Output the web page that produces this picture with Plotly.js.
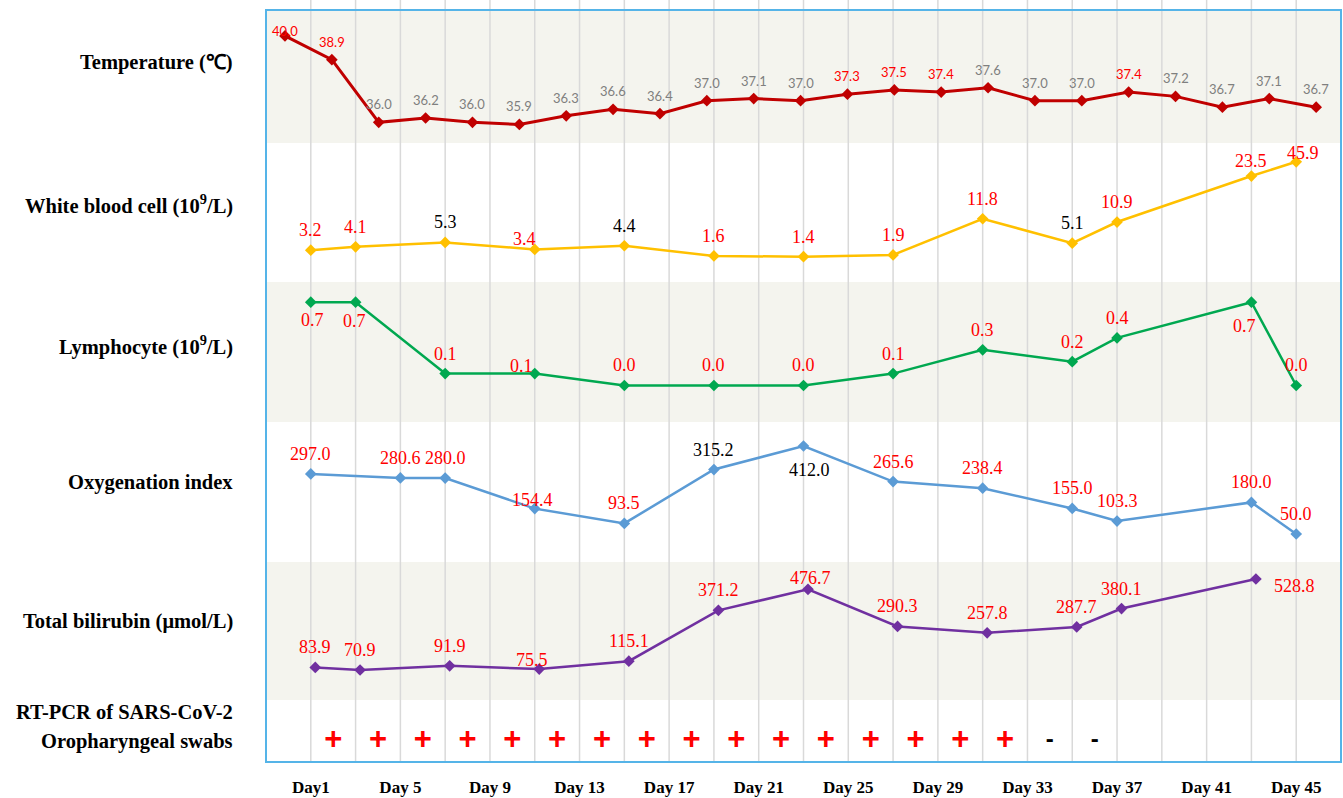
<!DOCTYPE html>
<html><head><meta charset="utf-8">
<script src="https://cdn.plot.ly/plotly-3.0.1.min.js"></script>
<style>html,body{margin:0;padding:0;background:#fff}#chart{width:1343px;height:798px}</style>
</head><body><div id="chart"></div>
<script>
// ---------------- DATA ----------------
const dayTicks = [1, 5, 9, 13, 17, 21, 25, 29, 33, 37, 41, 45];
const dayTickText = ['Day1', 'Day 5', 'Day 9', 'Day 13', 'Day 17', 'Day 21', 'Day 25', 'Day 29', 'Day 33', 'Day 37', 'Day 41', 'Day 45'];

const tempValues = [40.0, 38.9, 36.0, 36.2, 36.0, 35.9, 36.3, 36.6, 36.4, 37.0, 37.1, 37.0,
                    37.3, 37.5, 37.4, 37.6, 37.0, 37.0, 37.4, 37.2, 36.7, 37.1, 36.7];

const wbcDays = [1, 3, 7, 11, 15, 19, 23, 27, 31, 35, 37, 43, 45];
const wbcValues = [3.2, 4.1, 5.3, 3.4, 4.4, 1.6, 1.4, 1.9, 11.8, 5.1, 10.9, 23.5, 45.9];
// height at which each value is drawn in the reference (last point is drawn compressed)
const wbcPlotted = [3.2, 4.1, 5.3, 3.4, 4.4, 1.6, 1.4, 1.9, 11.8, 5.1, 10.9, 23.5, 27.4];

const lymphDays = [1, 3, 7, 11, 15, 19, 23, 27, 31, 35, 37, 43, 45];
const lymphValues = [0.7, 0.7, 0.1, 0.1, 0.0, 0.0, 0.0, 0.1, 0.3, 0.2, 0.4, 0.7, 0.0];

const oxyDays = [1, 5, 7, 11, 15, 19, 23, 27, 31, 35, 37, 43, 45];
const oxyValues = [297.0, 280.6, 280.0, 154.4, 93.5, 315.2, 412.0, 265.6, 238.4, 155.0, 103.3, 180.0, 50.0];

const biliDays = [1, 3, 7, 11, 15, 19, 23, 27, 31, 35, 37, 43];
const biliValues = [83.9, 70.9, 91.9, 75.5, 115.1, 371.2, 476.7, 290.3, 257.8, 287.7, 380.1, 528.8];

const pcrDays = [2, 4, 6, 8, 10, 12, 14, 16, 18, 20, 22, 24, 26, 28, 30, 32, 34, 36];
const pcrResults = ['+', '+', '+', '+', '+', '+', '+', '+', '+', '+', '+', '+', '+', '+', '+', '+', '-', '-'];

const rowLabels = ['Temperature (℃)', 'White blood cell (10<sup>9</sup>/L)', 'Lymphocyte (10<sup>9</sup>/L)',
                   'Oxygenation index', 'Total bilirubin (μmol/L)', 'RT-PCR of SARS-CoV-2', 'Oropharyngeal swabs'];

// ---------------- STYLE / GEOMETRY ----------------
const L = 266, R = 1341, T = 10, B = 762;
const py = p => (B - p) / (B - T);
const pxp = p => (p - L) / (R - L);
const dom = (top, bot) => [py(bot), py(top)];

const RED = '#FF0000', BLACK = '#000000', GRAY = '#7F7F7F';
const tempRed = [0, 1, 12, 13, 14, 18];
const wbcBlack = [2, 4, 9];
const oxyBlack = [5, 6];

const shifts = {
  temp: {def: [0, 18], o: {0: [0, 5]}},
  wbc: {def: [0, 20], o: {3: [-10, 10], 11: [0, 15], 12: [7, 9]}},
  lymph: {def: [0, 20], o: {0: [2, -18], 1: [-1, -19], 3: [-13, 8], 11: [-7, -24]}},
  oxy: {def: [0, 20], o: {3: [-2, 9], 6: [6, -24]}},
  bili: {def: [0, 20], o: {3: [-7, 9], 6: [3, 11], 11: [39, -7]}}
};
const BILI_OFFSET = 0.2;

const serif = 'Liberation Serif, Times New Roman, serif';
const annotations = [];
function addLabels(key, xs, ys, vals, xref, yref, colorFn, font) {
  vals.forEach((v, i) => {
    const s = shifts[key].o[i] || shifts[key].def;
    annotations.push({
      xref: xref, yref: yref, x: xs[i], y: ys[i], text: v.toFixed(1), showarrow: false,
      xshift: s[0], yshift: s[1], xanchor: 'center', yanchor: 'middle',
      font: {family: font.family, size: font.size, color: colorFn(i)}
    });
  });
}
const tempIdx = tempValues.map((_, i) => i);
const biliX = biliDays.map(d => d + BILI_OFFSET);

addLabels('temp', tempIdx, tempValues, tempValues, 'x2', 'y', i => tempRed.includes(i) ? RED : GRAY, {family: 'Lato, sans-serif', size: 13});
addLabels('wbc', wbcDays, wbcPlotted, wbcValues, 'x', 'y2', i => wbcBlack.includes(i) ? BLACK : RED, {family: serif, size: 18});
addLabels('lymph', lymphDays, lymphValues, lymphValues, 'x', 'y3', () => RED, {family: serif, size: 18});
addLabels('oxy', oxyDays, oxyValues, oxyValues, 'x', 'y4', i => oxyBlack.includes(i) ? BLACK : RED, {family: serif, size: 18});
addLabels('bili', biliX, biliValues, biliValues, 'x', 'y5', () => RED, {family: serif, size: 18});

const rowY = [62, 204, 345, 482, 621, 712, 741];
rowLabels.forEach((t, i) => {
  annotations.push({xref: 'paper', yref: 'paper', x: pxp(235), y: py(rowY[i]), xanchor: 'right', yanchor: 'middle',
    text: '<b>' + t + '</b>', showarrow: false, font: {family: serif, size: 20.5, color: '#000'}});
});

function line(x, y, xa, ya, color, w) {
  return {x: x, y: y, xaxis: xa, yaxis: ya, type: 'scatter', mode: 'lines+markers', hoverinfo: 'skip',
    line: {color: color, width: w}, marker: {symbol: 'diamond', size: 9, color: color}};
}
const traces = [
  line(tempIdx, tempValues, 'x2', 'y', '#C00000', 3),
  line(wbcDays, wbcPlotted, 'x', 'y2', '#FFC000', 2.5),
  line(lymphDays, lymphValues, 'x', 'y3', '#00A850', 2.5),
  line(oxyDays, oxyValues, 'x', 'y4', '#5B9BD5', 2.5),
  line(biliX, biliValues, 'x', 'y5', '#7030A0', 2.5),
  {x: pcrDays, y: pcrDays.map(() => 0), xaxis: 'x', yaxis: 'y6', type: 'scatter', mode: 'text', hoverinfo: 'skip',
   text: pcrResults.map(r => '<b>' + r + '</b>'), textposition: 'middle center',
   textfont: {family: 'Liberation Sans, Arial, sans-serif', size: pcrResults.map(r => r === '+' ? 31 : 24),
              color: pcrResults.map(r => r === '+' ? '#FF0000' : '#000000')}}
];

const bands = [[10, 143, '#F4F4EE'], [143, 282, '#FFFFFF'], [282, 422, '#F4F4EE'], [422, 562, '#FFFFFF'], [562, 700, '#F4F4EE'], [700, 762, '#FFFFFF']];
const shapes = [];
bands.forEach(b => shapes.push({type: 'rect', xref: 'paper', yref: 'paper', x0: 0, x1: 1, y0: py(b[1]), y1: py(b[0]),
  fillcolor: b[2], line: {width: 0}, layer: 'below'}));
for (let d = 1; d <= 45; d += 2) {
  shapes.push({type: 'line', xref: 'x', yref: 'paper', x0: d, x1: d, y0: 0, y1: py(0),
    line: {color: '#D9D9D9', width: 1.5}, layer: 'below'});
}
shapes.push({type: 'rect', xref: 'paper', yref: 'paper', x0: 0, x1: 1, y0: 0, y1: 1,
  line: {color: '#55B4E8', width: 2}, fillcolor: 'rgba(0,0,0,0)', layer: 'above'});

const hid = {visible: false, fixedrange: true};
const layout = {
  width: 1343, height: 798, showlegend: false,
  margin: {l: L, r: 1343 - R, t: T, b: 798 - B, pad: 0},
  paper_bgcolor: '#FFFFFF', plot_bgcolor: 'rgba(0,0,0,0)',
  xaxis: {range: [-1, 47], anchor: 'y6', tickvals: dayTicks, ticktext: dayTickText.map(t => '<b>' + t + '</b>'),
    tickfont: {family: serif, size: 17, color: '#000'}, showgrid: false, zeroline: false, showline: false,
    ticks: 'outside', ticklen: 10, tickcolor: 'rgba(0,0,0,0)', fixedrange: true},
  xaxis2: Object.assign({range: [-0.405, 22.53], overlaying: 'x', anchor: 'y'}, hid),
  yaxis: Object.assign({domain: dom(10, 143), range: [35.042, 41.199], anchor: 'x2'}, hid),
  yaxis2: Object.assign({domain: dom(143, 282), range: [-5.53, 32.55], anchor: 'x'}, hid),
  yaxis3: Object.assign({domain: dom(282, 422), range: [-0.307, 0.870], anchor: 'x'}, hid),
  yaxis4: Object.assign({domain: dom(422, 562), range: [-65.2, 510.7], anchor: 'x'}, hid),
  yaxis5: Object.assign({domain: dom(562, 700), range: [-80.1, 614.4], anchor: 'x'}, hid),
  yaxis6: Object.assign({domain: dom(700, 762), range: [-0.339, 0.661], anchor: 'x'}, hid),
  shapes: shapes, annotations: annotations
};
Plotly.newPlot('chart', traces, layout, {displayModeBar: false, staticPlot: true});
</script></body></html>
